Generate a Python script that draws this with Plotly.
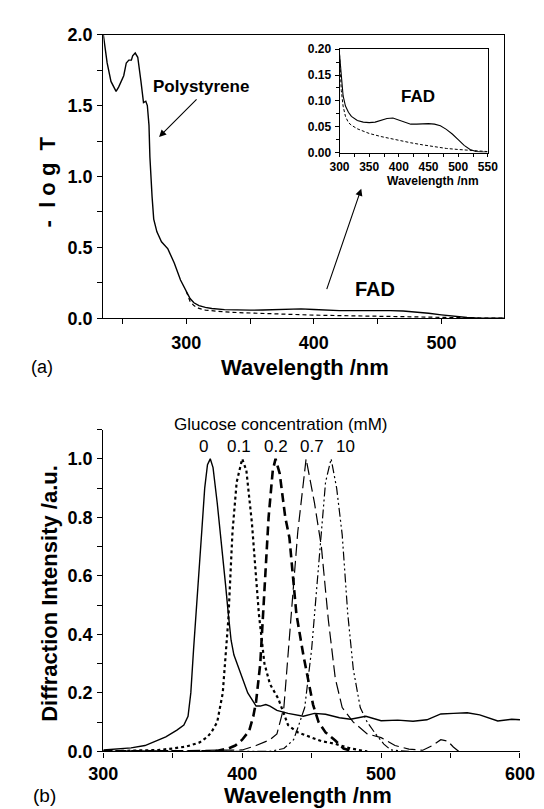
import plotly.graph_objects as go

W, H = 544, 809

# ---------------- data: panel (a) ----------------
ps_wl = [235, 238, 241, 245, 247, 250, 251, 253, 255, 257, 258, 260, 262, 264.5, 266.5, 268.3, 269.5,
         270.8, 271.5, 273.2, 274.5, 277, 280.6, 285.6, 290.6, 295.5]
ps_abs = [2.0, 1.80, 1.67, 1.60, 1.63, 1.69, 1.71, 1.80, 1.82, 1.82, 1.85, 1.87, 1.84, 1.67, 1.52, 1.53, 1.50,
          1.36, 1.14, 0.86, 0.70, 0.61, 0.54, 0.49, 0.39, 0.27]
fad_wl = [300, 303, 306, 310, 315, 320, 330, 340, 350, 360, 370, 380, 390, 400, 410, 420, 430, 440, 450,
          460, 470, 480, 490, 500, 510, 520, 530, 540, 549]
fad_abs = [0.19, 0.14, 0.11, 0.09, 0.078, 0.07, 0.062, 0.059, 0.058, 0.059, 0.062, 0.066, 0.067, 0.063,
           0.058, 0.055, 0.055, 0.056, 0.056, 0.055, 0.052, 0.045, 0.036, 0.025, 0.014, 0.006, 0.002,
           0.001, 0.001]
blank_wl = [300, 303, 306, 310, 315, 320, 330, 340, 350, 370, 390, 400, 420, 440, 460, 480, 500, 520, 540, 549]
blank_abs = [0.19, 0.12, 0.09, 0.07, 0.058, 0.053, 0.046, 0.041, 0.037, 0.031, 0.026, 0.023, 0.019, 0.015,
             0.011, 0.008, 0.006, 0.004, 0.002, 0.002]

# ---------------- data: panel (b) ----------------
c0_wl = [300, 310, 320, 330, 337, 345, 353, 358, 361, 363, 365, 367, 369, 371, 373, 375, 377, 379, 382, 385,
         388, 390, 392, 394, 397, 400, 404, 408, 410, 413, 417, 420, 425, 433, 444, 452, 460, 470, 478, 489,
         500, 512, 523, 533, 543, 552, 562, 571, 584, 594, 600]
c0_int = [0.005, 0.008, 0.012, 0.02, 0.033, 0.05, 0.073, 0.09, 0.12, 0.2, 0.35, 0.5, 0.63, 0.76, 0.9, 0.98,
          1.0, 0.97, 0.85, 0.72, 0.57, 0.47, 0.38, 0.33, 0.29, 0.25, 0.2, 0.17, 0.155, 0.155, 0.16, 0.155,
          0.14, 0.13, 0.12, 0.13, 0.127, 0.115, 0.11, 0.12, 0.105, 0.107, 0.103, 0.108, 0.128, 0.13, 0.132,
          0.125, 0.104, 0.11, 0.108]
c01_wl = [300, 340, 350, 360, 369, 375, 378, 382, 386, 390, 393, 396, 400, 403, 407, 412, 416, 420, 426, 433,
          440, 448, 457, 467, 478, 490]
c01_int = [0.0, 0.005, 0.01, 0.017, 0.03, 0.05, 0.067, 0.1, 0.2, 0.45, 0.75, 0.92, 1.0, 0.96, 0.78, 0.47,
           0.3, 0.23, 0.18, 0.09, 0.065, 0.05, 0.035, 0.026, 0.01, 0.0]
c02_wl = [300, 380, 390, 395, 400, 405, 408, 410, 413, 416, 419, 422, 424, 427, 431, 434, 439, 444, 448, 451,
          455, 460, 467, 473, 480]
c02_int = [0.0, 0.0, 0.01, 0.02, 0.04, 0.07, 0.12, 0.17, 0.3, 0.55, 0.8, 0.96, 1.0, 0.95, 0.8, 0.73, 0.47,
           0.33, 0.23, 0.16, 0.1, 0.065, 0.037, 0.01, 0.0]
c07_wl = [300, 400, 410, 420, 425, 430, 435, 440, 446, 452, 457, 462, 467, 472, 480, 490, 500, 510, 520, 530,
          537, 543, 548, 552, 556]
c07_int = [0.0, 0.005, 0.02, 0.04, 0.06, 0.15, 0.45, 0.75, 1.0, 0.85, 0.7, 0.45, 0.25, 0.15, 0.1, 0.06,
           0.047, 0.02, 0.008, 0.004, 0.02, 0.04, 0.035, 0.015, 0.0]
c10_wl = [300, 420, 430, 437, 440, 445, 450, 455, 460, 464, 468, 472, 476, 480, 485, 490, 496, 502, 507, 520]
c10_int = [0.0, 0.0, 0.01, 0.04, 0.08, 0.15, 0.35, 0.65, 0.92, 1.0, 0.9, 0.74, 0.47, 0.28, 0.15, 0.1, 0.06,
           0.025, 0.005, 0.0]
conc_labels = ["0", "0.1", "0.2", "0.7", "10"]

top_xticks = [300, 400, 500]
top_yticks = [0.0, 0.5, 1.0, 1.5, 2.0]
top_ytext = ["0.0", "0.5", "1.0", "1.5", "2.0"]
inset_xticks = [300, 350, 400, 450, 500, 550]
inset_yticks = [0.0, 0.05, 0.10, 0.15, 0.20]
inset_ytext = ["0.00", "0.05", "0.10", "0.15", "0.20"]
bot_xticks = [300, 400, 500, 600]
bot_yticks = [0.0, 0.2, 0.4, 0.6, 0.8, 1.0]
bot_ytext = ["0.0", "0.2", "0.4", "0.6", "0.8", "1.0"]

FONT = "Liberation Sans"


def px(x):
    return x / W


def py(y):
    return 1 - y / H


fig = go.Figure()


def line(xs, ys, xa, ya, width, dash="solid"):
    fig.add_trace(go.Scatter(x=xs, y=ys, xaxis=xa, yaxis=ya, mode="lines", showlegend=False,
                             hoverinfo="skip", line=dict(color="black", width=width, dash=dash)))


# panel (a) main
line(blank_wl, blank_abs, "x", "y", 1.2, "4px,3px")
line(ps_wl + fad_wl, ps_abs + fad_abs, "x", "y", 1.4)
# inset
line(blank_wl, blank_abs, "x2", "y2", 1.0, "3px,2px")
line(fad_wl, fad_abs, "x2", "y2", 1.1)
# panel (b)
line(c0_wl, c0_int, "x3", "y3", 1.4)
line(c01_wl, c01_int, "x3", "y3", 2.2, "dot")
line(c02_wl, c02_int, "x3", "y3", 2.6, "9px,5px")
line(c07_wl, c07_int, "x3", "y3", 1.2, "12px,5px")
line(c10_wl, c10_int, "x3", "y3", 1.2, "9px,3px,2px,3px,2px,3px")

tickfont_big = dict(family=FONT, size=18, color="black", weight="bold")
tickfont_small = dict(family=FONT, size=12, color="black", weight="bold")
ax_common = dict(showgrid=False, zeroline=False, showline=True, linecolor="black", linewidth=1.2,
                 ticks="outside", tickcolor="black", ticklen=5, tickwidth=1.2)
minor_big = dict(ticks="outside", ticklen=5, tickcolor="black", tickwidth=1.2)
minor_small = dict(ticks="outside", ticklen=3, tickcolor="black", tickwidth=1)

fig.update_layout(
    width=W, height=H, margin=dict(l=0, r=0, t=0, b=0),
    paper_bgcolor="white", plot_bgcolor="white",
    xaxis=dict(domain=[px(85), px(509)], range=[235, 549], anchor="y", tickvals=top_xticks,
               tickfont=tickfont_big, mirror=True, ticklabelstandoff=3,
               minor=dict(dtick=50, tick0=250, **minor_big), **ax_common),
    yaxis=dict(domain=[py(308), py(17)], range=[0, 2.0], anchor="x", tickvals=top_yticks,
               ticktext=top_ytext, tickfont=tickfont_big, mirror=True, ticklabelstandoff=1,
               minor=dict(dtick=0.25, **minor_big), **ax_common),
    xaxis2=dict(domain=[px(335), px(492)], range=[300, 550], anchor="y2", tickvals=inset_xticks,
                tickfont=tickfont_small, mirror=True, ticklabelstandoff=0,
                minor=dict(dtick=25, **minor_small),
                **{**ax_common, "ticklen": 3, "linewidth": 1, "tickwidth": 1}),
    yaxis2=dict(domain=[py(138), py(32)], range=[0, 0.2], anchor="x2", tickvals=inset_yticks,
                ticktext=inset_ytext, tickfont=tickfont_small, mirror=True, ticklabelstandoff=1,
                minor=dict(dtick=0.025, **minor_small),
                **{**ax_common, "ticklen": 4, "linewidth": 1, "tickwidth": 1}),
    xaxis3=dict(domain=[px(85), px(526)], range=[300, 600], anchor="y3", tickvals=bot_xticks,
                tickfont=tickfont_big, ticklabelstandoff=1,
                minor=dict(dtick=50, **minor_big), **ax_common),
    yaxis3=dict(domain=[py(752), py(422)], range=[0, 1.1], anchor="x3", tickvals=bot_yticks,
                ticktext=bot_ytext, tickfont=tickfont_big, ticklabelstandoff=1,
                minor=dict(dtick=0.1, **minor_big), **ax_common),
)

ann = []


def text(x, y, s, size, weight="bold", angle=0, xanchor="center"):
    ann.append(dict(x=px(x), y=py(y), xref="paper", yref="paper", text=s, showarrow=False,
                    textangle=angle, xanchor=xanchor, yanchor="middle",
                    font=dict(family=FONT, size=size, color="black", weight=weight)))


text(26, 168, "-  l o g  T", 22, angle=-90)
text(298, 358, "Wavelength /nm", 22)
text(20, 358, "(a)", 18, weight="normal")
text(188, 70, "Polystyrene", 17)
text(418, 80, "FAD", 17)
text(373, 278, "FAD", 20)
text(434, 167, "Wavelength /nm", 12)

text(28, 590, "Diffraction Intensity /a.u.", 22, angle=-90)
text(302, 797, "Wavelength /nm", 22)
text(23, 797, "(b)", 19, weight="normal")
text(273, 417, "Glucose concentration (mM)", 17, weight="normal")
for lab, xc in zip(conc_labels, [191, 229, 268, 306, 341]):
    text(xc, 439, lab, 17, weight="normal")

# arrows
for head, tail in [((144, 122), (183, 83)), ((358, 175), (323, 277))]:
    ann.append(dict(x=px(head[0]), y=py(head[1]), xref="paper", yref="paper", text="",
                    showarrow=True, ax=tail[0] - head[0], ay=tail[1] - head[1], axref="pixel", ayref="pixel",
                    arrowhead=2, arrowsize=1.3, arrowwidth=1.1, arrowcolor="black"))

fig.update_layout(annotations=ann)
fig.write_html("out.html")
